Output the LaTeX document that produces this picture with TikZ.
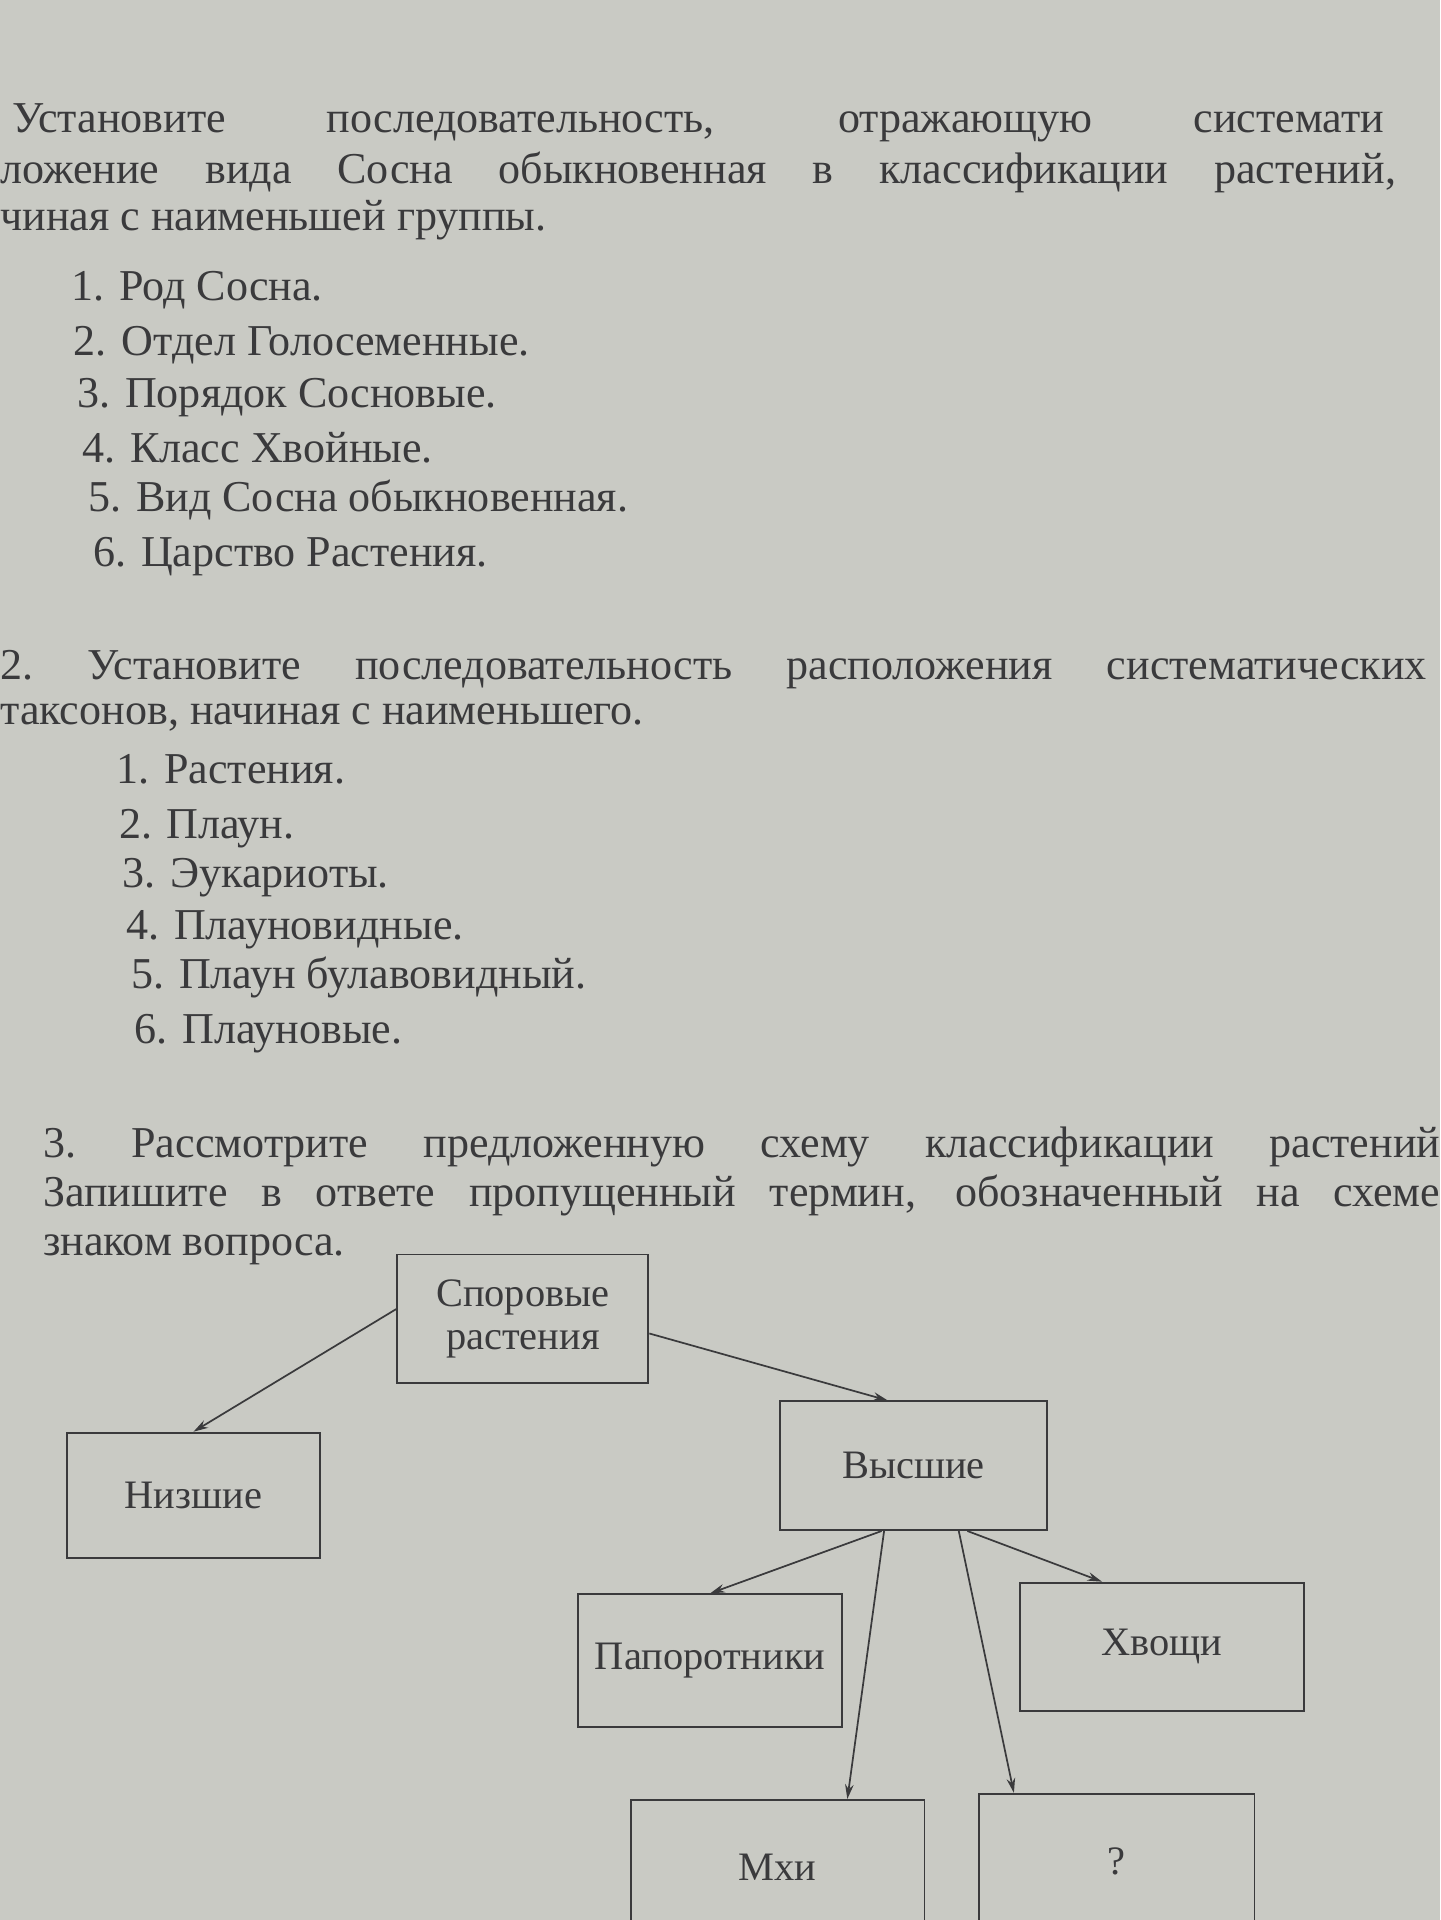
\documentclass[tikz,border=0pt]{standalone}
\usepackage{fontspec}
\setmainfont{Liberation Serif}
\usetikzlibrary{arrows.meta}
\definecolor{paper}{HTML}{C9CAC4}
\definecolor{ink}{HTML}{3A3A3C}
\begin{document}
\begin{tikzpicture}[x=1pt,y=-1pt,
  t/.style={anchor=base west,inner sep=0pt,text=ink,font=\fontsize{36}{38}\selectfont},
  box/.style={draw=ink,line width=1.6pt,inner sep=0pt,text=ink,font=\fontsize{33}{35}\selectfont,align=center},
  arr/.style={draw=ink,line width=1.4pt,-{Stealth[length=12pt,width=7pt]}}]
\fill[paper] (0,0) rectangle (1176,1568);
\useasboundingbox (0,0) rectangle (1176,1568);
\node[t] (l1) at (10,108) {\makebox[1120pt][s]{Установите последовательность, отражающую системати}};
\node[t] (l2) at (0,150) {\makebox[1140pt][s]{ложение вида Сосна обыкновенная в классификации растений,}};
\node[t] (l3) at (0,188) {чиная с наименьшей группы.};
\node[t] (a1) at (58,245) {1. Род Сосна.};
\node[t] (a2) at (60,290) {2. Отдел Голосеменные.};
\node[t] (a3) at (63,333) {3. Порядок Сосновые.};
\node[t] (a4) at (67,378) {4. Класс Хвойные.};
\node[t] (a5) at (72,418) {5. Вид Сосна обыкновенная.};
\node[t] (a6) at (76,463) {6. Царство Растения.};
\node[t] (m1) at (0,555) {\makebox[1165pt][s]{2.~Установите последовательность расположения систематических}};
\node[t] (m2) at (0,592) {таксонов, начиная с наименьшего.};
\node[t] (b1) at (95,640) {1. Растения.};
\node[t] (b2) at (97,685) {2. Плаун.};
\node[t] (b3) at (100,725) {3. Эукариоты.};
\node[t] (b4) at (103,767) {4. Плауновидные.};
\node[t] (b5) at (107,807) {5. Плаун булавовидный.};
\node[t] (b6) at (110,852) {6. Плауновые.};
\node[t] (n1) at (35,945) {\makebox[1141pt][s]{3.~Рассмотрите предложенную схему классификации растений}};
\node[t] (n2) at (35,985) {\makebox[1141pt][s]{Запишите в ответе пропущенный термин, обозначенный на схеме}};
\node[t] (n3) at (35,1025) {знаком вопроса.};
\node[box,minimum width=205pt,minimum height=105pt] (sp) at (427,1077) {Споровые\\растения};
\node[box,minimum width=207pt,minimum height=102pt] (lo) at (158,1221) {Низшие};
\node[box,minimum width=218pt,minimum height=105pt] (hi) at (746,1197) {Высшие};
\node[box,minimum width=216pt,minimum height=108pt] (pa) at (580,1356) {Папоротники};
\node[box,minimum width=232pt,minimum height=105pt] (hv) at (949,1345) {Хвощи};
\node[box,minimum width=240pt,minimum height=110pt] (mh) at (635,1525) {Мхи};
\node[box,minimum width=225pt,minimum height=110pt] (q) at (912,1520) {?};
\draw[arr] ([yshift=8pt]sp.west) -- (lo.north);
\draw[arr] ([yshift=-12pt]sp.east) -- ([xshift=-21pt]hi.north);
\draw[arr] ([xshift=-26pt]hi.south) -- (pa.north);
\draw[arr] ([xshift=-24pt]hi.south) -- ([xshift=57pt]mh.north);
\draw[arr] ([xshift=37pt]hi.south) -- ([xshift=-84pt]q.north);
\draw[arr] ([xshift=44pt]hi.south) -- ([xshift=-49pt]hv.north);
\end{tikzpicture}
\end{document}
